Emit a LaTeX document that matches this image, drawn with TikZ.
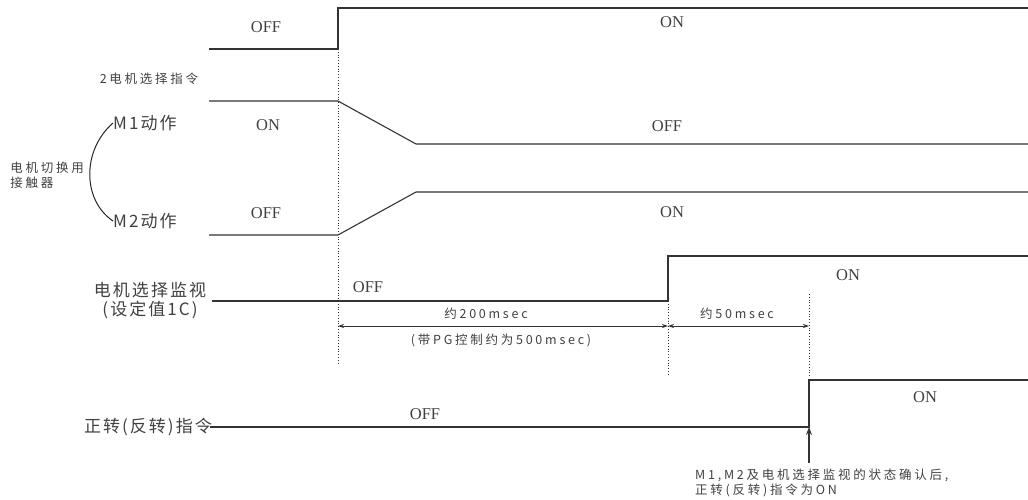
\documentclass[tikz,border=0pt]{standalone}
\usepackage{fontspec}
\setmainfont{Liberation Serif}
\newfontfamily\cjk[LetterSpace=12]{Noto Sans CJK SC}
\newfontfamily\cjksmall[LetterSpace=22]{Noto Sans CJK SC}
\usetikzlibrary{arrows.meta, calc, positioning}

\tikzset{
  signal/.style={line width=1.1pt, draw=black!80},
  guide/.style={dotted, line width=0.8pt, draw=black!80},
  dim/.style={line width=0.9pt, draw=black!80, {Stealth[length=6pt,width=4pt]}-{Stealth[length=6pt,width=4pt]}},
  state/.style={font=\fontsize{16.5}{16.5}\selectfont, text=black!75, inner sep=0pt},
  siglabel/.style={font=\cjk\fontsize{17}{19}\selectfont, text=black!75, inner sep=0pt, align=center},
  smalllabel/.style={font=\cjksmall\fontsize{12.5}{15}\selectfont, text=black!75, inner sep=0pt, align=left},
}

\begin{document}
\begin{tikzpicture}[x=1pt,y=-1pt,>=Stealth]
    \useasboundingbox (0,0) rectangle (1028,500);

    % time marks
    \coordinate (t0) at (338,0); % select command on
    \coordinate (t2) at (668,0); % monitor on
    \coordinate (t3) at (809,0); % run command on

    % 2 motor select command
    \draw[signal] (209,49) -- (t0 |- 0,49) -- (t0 |- 0,8) -- (1028,8);
    \node[state] (selOff) at (266,27) {OFF};
    \node[state] (selOn) at (672,22) {ON};
    \node[smalllabel] (selLbl) at (149,79) {2电机选择指令};

    % contactors M1 / M2
    \draw[signal] (209,101) -- (t0 |- 0,101) -- (416,144) -- (1028,144); % M1
    \draw[signal] (209,235) -- (t0 |- 0,235) -- (416,192) -- (1028,192); % M2
    \node[state] (m1On) at (268,125) {ON};
    \node[state] (m1Off) at (667,126) {OFF};
    \node[state] (m2Off) at (266,213) {OFF};
    \node[state] (m2On) at (672,212) {ON};
    \node[siglabel, anchor=west] (m1Lbl) at (113,123) {M1动作};
    \node[siglabel, anchor=west] (m2Lbl) at (113,221) {M2动作};
    \draw[line width=1pt, draw=black!85] (m1Lbl.west) .. controls (82,150) and (82,200) .. (m2Lbl.west); % brace
    \node[smalllabel] (kmLbl) at (47,175) {电机切换用\\接触器};

    % motor select monitor
    \draw[signal] (212,301) -- (t2 |- 0,301) -- (t2 |- 0,256) -- (1028,256);
    \node[state] (monOff) at (368,287) {OFF};
    \node[state] (monOn) at (848,275) {ON};
    \node[siglabel] (monLbl) at (150,301) {电机选择监视\\(设定值1C)};

    % run command
    \draw[signal] (210,427) -- (t3 |- 0,427) -- (t3 |- 0,380) -- (1028,380);
    \node[state] (runOff) at (425,414) {OFF};
    \node[state] (runOn) at (925,397) {ON};
    \node[siglabel, anchor=east] (runLbl) at (212,427) {正转(反转)指令};

    % guides
    \draw[guide] (t0 |- 0,49) -- (t0 |- 0,365);
    \draw[guide] (t2 |- 0,301) -- (t2 |- 0,375);
    \draw[guide] (t3 |- 0,294) -- (t3 |- 0,378);

    % delays
    \coordinate (d0) at (t0 |- 0,326);
    \coordinate (d2) at (t2 |- 0,326);
    \coordinate (d3) at (t3 |- 0,326);
    \draw[dim] (d0) -- (d2);
    \draw[dim] (d2) -- (d3);
    \node[smalllabel] (d200) at (486,314) {约200msec};
    \node[smalllabel] (dPG) at (501,340) {(带PG控制约为500msec)};
    \node[smalllabel] (d50) at (737,314) {约50msec};

    % note
    \coordinate (runUp) at (t3 |- 0,427);
    \coordinate (noteTop) at (t3 |- 0,463);
    \draw[signal, ->] (noteTop) -- (runUp);
    \node[smalllabel, anchor=north west] (note) at (695,469) {M1,M2及电机选择监视的状态确认后,\\正转(反转)指令为ON};
\end{tikzpicture}
\end{document}
